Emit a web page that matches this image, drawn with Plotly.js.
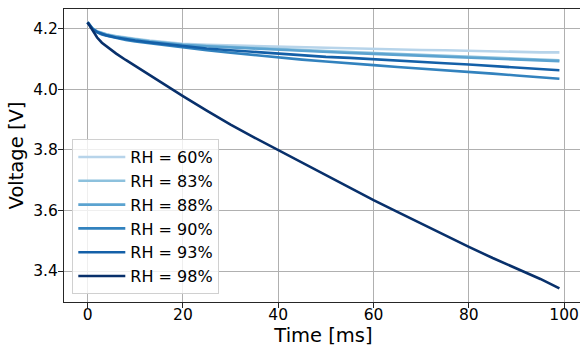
<!DOCTYPE html>
<html>
<head>
<meta charset="utf-8">
<script src="https://cdn.plot.ly/plotly-3.0.1.min.js"></script>
<style>
html, body { margin: 0; padding: 0; overflow: hidden; background: #fff; }
#chart { width: 584px; height: 347px; }
</style>
</head>
<body>
<div id="chart"></div>
<script>
// Time samples [ms]
const time = [0, 1, 2, 3, 4, 6, 8, 10, 13, 16, 20, 25, 30, 35, 40, 45, 50, 55, 60, 65, 70, 75, 80, 85, 90, 95, 99];

// Voltage [V] per relative humidity
const rh60 = [4.220, 4.201, 4.191, 4.185, 4.181, 4.175, 4.170, 4.166, 4.160, 4.155, 4.149, 4.146, 4.144, 4.142, 4.140, 4.137, 4.135, 4.134, 4.132, 4.130, 4.129, 4.128, 4.126, 4.125, 4.123, 4.121, 4.121];
const rh83 = [4.220, 4.200, 4.190, 4.184, 4.180, 4.173, 4.168, 4.164, 4.158, 4.153, 4.147, 4.143, 4.139, 4.136, 4.133, 4.129, 4.125, 4.122, 4.119, 4.116, 4.113, 4.110, 4.107, 4.104, 4.101, 4.098, 4.095];
const rh88 = [4.220, 4.200, 4.189, 4.183, 4.179, 4.172, 4.167, 4.163, 4.157, 4.152, 4.146, 4.141, 4.137, 4.133, 4.130, 4.126, 4.123, 4.119, 4.116, 4.113, 4.110, 4.108, 4.105, 4.101, 4.098, 4.095, 4.092];
const rh90 = [4.220, 4.199, 4.187, 4.180, 4.176, 4.168, 4.162, 4.157, 4.151, 4.145, 4.137, 4.128, 4.120, 4.112, 4.104, 4.097, 4.091, 4.084, 4.079, 4.073, 4.068, 4.063, 4.057, 4.051, 4.045, 4.039, 4.034];
const rh93 = [4.220, 4.199, 4.188, 4.182, 4.177, 4.170, 4.164, 4.160, 4.154, 4.149, 4.141, 4.134, 4.128, 4.122, 4.117, 4.112, 4.106, 4.103, 4.098, 4.093, 4.088, 4.085, 4.081, 4.076, 4.071, 4.066, 4.062];
const rh98 = [4.220, 4.195, 4.170, 4.153, 4.140, 4.117, 4.096, 4.076, 4.046, 4.016, 3.977, 3.929, 3.883, 3.840, 3.799, 3.757, 3.716, 3.674, 3.634, 3.595, 3.556, 3.518, 3.480, 3.443, 3.408, 3.374, 3.343];

const seriesNames = ["RH = 60%", "RH = 83%", "RH = 88%", "RH = 90%", "RH = 93%", "RH = 98%"];
const seriesValues = [rh60, rh83, rh88, rh90, rh93, rh98];
const seriesColors = ["#b7d4ea", "#8dc1dd", "#5ba3d0", "#3282be", "#1460a8", "#08306b"];

const traces = seriesValues.map((v, i) => ({
  x: time,
  y: v,
  type: "scatter",
  mode: "lines",
  name: seriesNames[i],
  line: { color: seriesColors[i], width: 2.6 }
}));

const axisCommon = {
  showgrid: true,
  gridcolor: "#b0b0b0",
  gridwidth: 1,
  zeroline: false,
  showline: true,
  mirror: true,
  linecolor: "#262626",
  linewidth: 1,
  ticks: "outside",
  ticklen: 5,
  tickwidth: 1,
  tickcolor: "#262626",
  tickfont: { family: "DejaVu Sans", size: 15.5, color: "#000" }
};

const layout = {
  width: 584,
  height: 347,
  margin: { l: 64, r: 1, t: 9, b: 45 },
  paper_bgcolor: "#fff",
  plot_bgcolor: "#fff",
  showlegend: true,
  xaxis: Object.assign({}, axisCommon, {
    range: [-4.95, 103.95],
    tickvals: [0, 20, 40, 60, 80, 100],
    ticktext: ["0", "20", "40", "60", "80", "100"],
    ticklabelstandoff: -7,
    title: { text: "Time [ms]", font: { family: "DejaVu Sans", size: 19.5, color: "#000" }, standoff: 2 }
  }),
  yaxis: Object.assign({}, axisCommon, {
    range: [3.298, 4.264],
    tickvals: [3.4, 3.6, 3.8, 4.0, 4.2],
    ticktext: ["3.4", "3.6", "3.8", "4.0", "4.2"],
    ticklabelstandoff: -3,
    title: { text: "Voltage [V]", font: { family: "DejaVu Sans", size: 19.5, color: "#000" }, standoff: 4 }
  }),
  legend: {
    x: 0.016,
    y: 0.027,
    xanchor: "left",
    yanchor: "bottom",
    bgcolor: "rgba(255,255,255,0.8)",
    bordercolor: "#d0d0d0",
    borderwidth: 1,
    font: { family: "DejaVu Sans", size: 16, color: "#000" },
    itemwidth: 47
  }
};

Plotly.newPlot("chart", traces, layout, { displayModeBar: false, staticPlot: true });
</script>
</body>
</html>
